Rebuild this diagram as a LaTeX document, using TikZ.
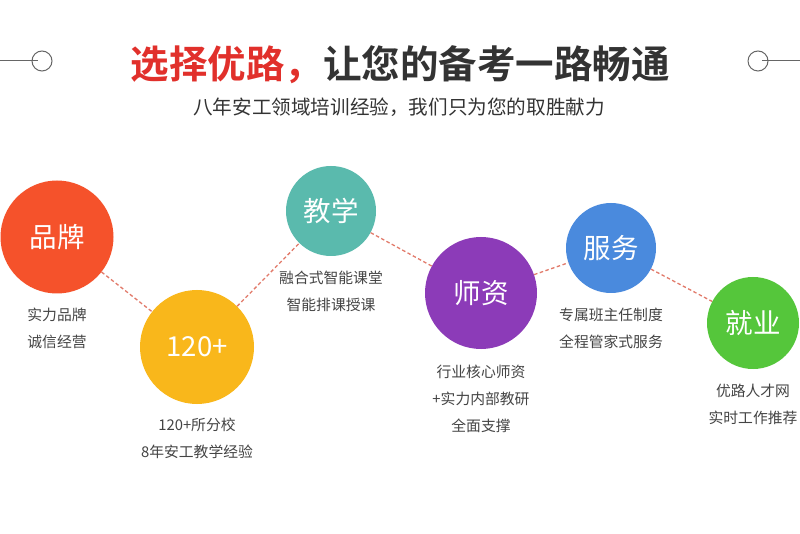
\documentclass[tikz,border=0pt]{standalone}
\usepackage{fontspec}
\setmainfont{Noto Sans CJK SC}
\newfontfamily\cjkb{Noto Sans CJK SC Bold}
\definecolor{cRed}{HTML}{E1302B}
\definecolor{cDark}{HTML}{333333}
\definecolor{cText}{HTML}{444444}
\definecolor{cDash}{HTML}{E27A6A}
\definecolor{cPinpai}{HTML}{F5522B}
\definecolor{cNum}{HTML}{F9B71B}
\definecolor{cJiao}{HTML}{5ABAAD}
\definecolor{cShi}{HTML}{8C3BB8}
\definecolor{cFu}{HTML}{4A8ADD}
\definecolor{cJiu}{HTML}{55C63B}
\definecolor{cDeco}{HTML}{666666}
\begin{document}
\begin{tikzpicture}[x=1pt,y=-1pt,
  bubble/.style={circle,inner sep=0pt,text=white,font=\fontsize{27.5}{30}\selectfont},
  caption/.style={text=cText,font=\fontsize{14.8}{27}\selectfont,align=center,inner sep=0pt},
  link/.style={draw=cDash,line width=1.3pt,dash pattern=on 3.5pt off 2.5pt},
  deco/.style={draw=cDeco,line width=1pt}]
\useasboundingbox (0,0) rectangle (800,534);
\fill[white] (0,0) rectangle (800,534);
% title
\node[inner sep=0pt,font=\cjkb\fontsize{38.5}{40}\selectfont] (title) at (400,65)
  {\textcolor{cRed}{选择优路，}\textcolor{cDark}{让您的备考一路畅通}};
\node[inner sep=0pt,text=cDark,font=\fontsize{19.6}{22}\selectfont] (sub) at (399,107)
  {八年安工领域培训经验，我们只为您的取胜献力};
% decorations
\node[circle,deco,minimum size=20pt,inner sep=0pt] (dl) at (42,61) {};
\node[circle,deco,minimum size=20pt,inner sep=0pt] (dr) at (758,61) {};
\coordinate (dlend) at (0,61);
\coordinate (drend) at (800,61);
\draw[deco] (dlend) -- ([xshift=-4pt]dl.center);
\draw[deco] (drend) -- ([xshift=4pt]dr.center);
% bubbles
\node[bubble,fill=cPinpai,minimum size=113pt] (pp) at (57,237) {品牌};
\node[bubble,fill=cNum,minimum size=114pt] (num) at (197,347) {120+};
\node[bubble,fill=cJiao,minimum size=90pt] (jx) at (331,211) {教学};
\node[bubble,fill=cShi,minimum size=112pt] (sz) at (481,293) {师资};
\node[bubble,fill=cFu,minimum size=90pt] (fw) at (611,248) {服务};
\node[bubble,fill=cJiu,minimum size=92pt] (jy) at (753,323) {就业};
% links
\draw[link] (pp) -- (num);
\draw[link] (num) -- (jx);
\draw[link] (jx) -- (sz);
\draw[link] (sz) -- (fw);
\draw[link] (fw) -- (jy);
% captions
\node[caption] (c1) at (57,328) {实力品牌\\诚信经营};
\node[caption] (c2) at (197,438) {120+所分校\\8年安工教学经验};
\node[caption] (c3) at (331,291) {融合式智能课堂\\智能排课授课};
\node[caption] (c4) at (481,399) {行业核心师资\\+实力内部教研\\全面支撑};
\node[caption] (c5) at (611,328) {专属班主任制度\\全程管家式服务};
\node[caption] (c6) at (753,404) {优路人才网\\实时工作推荐};
\end{tikzpicture}
\end{document}
